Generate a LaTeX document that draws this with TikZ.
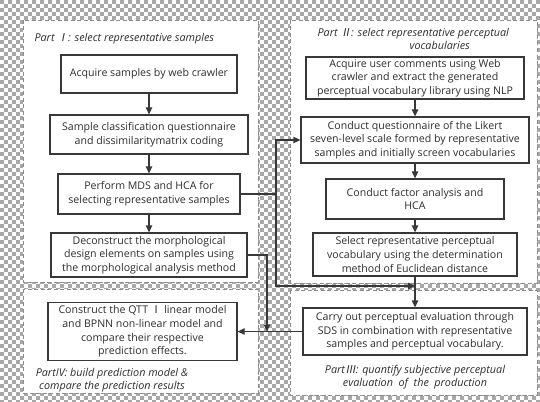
\documentclass[tikz,border=0pt]{standalone}
\usepackage{fontspec}
\setmainfont{Open Sans}
\newfontfamily\cjk{Noto Sans CJK SC}
\newfontfamily\cjkit[FakeSlant=0.2]{Noto Sans CJK SC}
\usetikzlibrary{arrows.meta}
\definecolor{boxline}{HTML}{383838}
\definecolor{dashline}{HTML}{8C8C8C}
\definecolor{txtcol}{HTML}{2E2E2E}
\definecolor{checker}{HTML}{A8A8A8}

\begin{document}
\begin{tikzpicture}[x=1pt,y=-1pt,
    procbox/.style={draw=boxline, line width=1.3pt, fill=white, align=center, inner sep=2pt,
      text=txtcol, font=\fontsize{10.6}{13.6}\selectfont},
    partbox/.style={draw=dashline, fill=white, line width=0.9pt, dash pattern=on 4pt off 2.5pt},
    parttitle/.style={align=center, text=txtcol, font=\fontsize{10.8}{13}\selectfont\itshape},
    link/.style={draw=boxline, line width=1.3pt},
    flow/.style={link, -{Triangle[length=7pt,width=6.5pt]}}]

    \useasboundingbox (0,0) rectangle (540,401);
    \fill[white] (0,0) rectangle (540,401);
    % checkered ground
    \foreach \row in {0,...,100}{
        \pgfmathtruncatemacro\cA{mod(\row,2)*4}
        \pgfmathtruncatemacro\cB{\cA+8}
        \foreach \col in {\cA,\cB,...,540}
            \fill[checker] (\col,\row*4) rectangle ++(4,4);
    }

    % the four parts
    \draw[partbox] (23,20) rectangle (258,282);
    \draw[partbox] (290,20) rectangle (537,283);
    \draw[partbox] (290,290) rectangle (537,395);
    \draw[partbox] (23,289) rectangle (258,393);

    \node[parttitle, anchor=west] (ttlA) at (31,39) {Part {\cjkit Ⅰ}: select representative samples};
    \node[parttitle, align=left, anchor=north west] (ttlB) at (314,25)
        {Part {\cjkit Ⅱ}: select representative perceptual\\\hspace*{92pt}vocabularies};
    \node[parttitle] (ttlC) at (415,377)
        {Part{\cjkit Ⅲ}: quantify subjective perceptual\\evaluation\ \ of\ \ the\ \ production};
    \node[parttitle] (ttlD) at (112,380)
        {PartIV: build prediction model \&\\compare the prediction results};

    % part I
    \node[procbox, minimum width=176pt, minimum height=38pt] (acq) at (149,74)
        {Acquire samples by web crawler};
    \node[procbox, minimum width=198pt, minimum height=39pt] (cls) at (149,134.5)
        {Sample classification questionnaire\\and dissimilaritymatrix coding};
    \node[procbox, minimum width=182pt, minimum height=40pt] (mds) at (149,194)
        {Perform MDS and HCA for\\selecting representative samples};
    \node[procbox, minimum width=196pt, minimum height=44pt] (dec) at (149,255)
        {Deconstruct the morphological\\design elements on samples using\\the morphological analysis method};

    % part II
    \node[procbox, minimum width=218pt, minimum height=42pt] (usr) at (415,78)
        {Acquire user comments using Web\\crawler and extract the generated\\perceptual vocabulary library using NLP};
    \node[procbox, minimum width=228pt, minimum height=46pt] (lik) at (415,140)
        {Conduct questionnaire of the Likert\\seven-level scale formed by representative\\samples and initially screen vocabularies};
    \node[procbox, minimum width=178pt, minimum height=40pt] (fac) at (415,199)
        {Conduct factor analysis and\\HCA};
    \node[procbox, minimum width=204pt, minimum height=43pt] (sel) at (415,254.5)
        {Select representative perceptual\\vocabulary using the determination\\method of Euclidean distance};

    % part III and IV
    \node[procbox, minimum width=224pt, minimum height=47pt] (sds) at (415,331.5)
        {Carry out perceptual evaluation through\\SDS in combination with representative\\samples and perceptual vocabulary.};
    \node[procbox, minimum width=189pt, minimum height=58pt] (qtt) at (142.5,331.5)
        {Construct the QTT {\cjk Ⅰ}\ linear model\\and BPNN non-linear model and\\compare their respective\\prediction effects.};

    \draw[flow] (acq) -- (cls);
    \draw[flow] (cls) -- (mds);
    \draw[flow] (mds) -- (dec);
    \draw[flow] (usr) -- (lik);
    \draw[flow] (lik) -- (fac);
    \draw[flow] (fac) -- (sel);
    \draw[flow] (sel) -- (sds);
    \draw[flow] (sds) -- (qtt);

    \coordinate (jn) at (276,194);
    \coordinate (mrg) at (415,286);
    \coordinate (drp) at (267,331.5);
    \draw[link] (mds.east) -- (jn);
    \draw[flow] (jn) |- (lik.west);
    \draw[flow] (jn) |- (mrg);
    \draw[flow] (dec.east) -| (drp);

\end{tikzpicture}
\end{document}
